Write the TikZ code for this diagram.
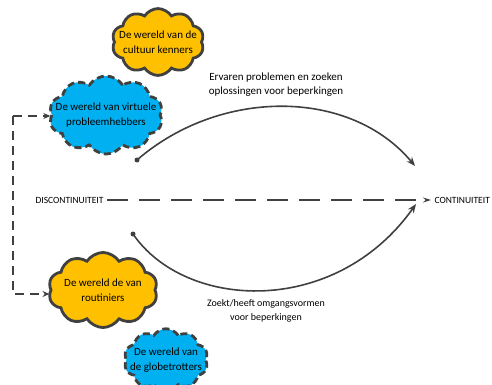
\documentclass[tikz,border=0pt]{standalone}
\usepackage{fontspec}
\setmainfont{Carlito}
\usetikzlibrary{shapes.symbols,arrows.meta}
\definecolor{cgray}{HTML}{404040}
\definecolor{corange}{HTML}{FFC000}
\definecolor{cblue}{HTML}{00B0F0}
\tikzset{
  cloudbase/.style={cloud, cloud puffs=10, cloud puff arc=115, cloud ignores aspect, draw=cgray, line width=2.8pt,
    align=center, font=\fontsize{11}{15}\selectfont, minimum width=0pt, minimum height=0pt},
  orangecloud/.style={cloudbase, fill=corange},
  bluecloud/.style={cloudbase, fill=cblue, dash pattern=on 7pt off 4pt},
  curvearrow/.style={draw=cgray, line width=1.6pt, -{Stealth[length=9pt,width=7pt]}},
  dot/.style={circle, fill=cgray, inner sep=0pt, minimum size=5pt},
  lbl/.style={font=\fontsize{9.5}{13.5}\selectfont, align=center},
}
\begin{document}
\begin{tikzpicture}[x=1pt,y=-1pt]
\useasboundingbox (0,0) rectangle (492,385);
\node[orangecloud, inner xsep=-8pt, inner ysep=8pt] (kenners) at (158,42) {De wereld van de\\cultuur kenners};
\node[bluecloud, inner xsep=-12pt, inner ysep=10pt] (virtueel) at (106,115) {De wereld van virtuele\\probleemhebbers};
\node[orangecloud, inner xsep=-2pt, inner ysep=10pt] (routiniers) at (103,290) {De wereld de van\\routiniers};
\node[bluecloud, inner xsep=-8pt, inner ysep=6pt] (globe) at (166,360) {De wereld van\\de globetrotters};

\node[lbl, anchor=east] (disc) at (107,200) {DISCONTINUITEIT};
\node[lbl, anchor=west] (cont) at (431,200) {CONTINUITEIT};
\draw[draw=cgray, line width=1.3pt, dash pattern=on 21pt off 11pt, -{Stealth[length=8pt,width=5pt]}] (disc.east) -- (cont.west);

\node[dot] (s1) at (137,160) {};
\coordinate (e1) at (415,166);
\draw[curvearrow] (s1.center) .. controls (220,88) and (350,88) .. (e1);
\node[dot] (s2) at (133,234) {};
\coordinate (e2) at (416,204);
\draw[curvearrow] (s2.center) .. controls (185,310) and (335,318) .. (e2);

\node[lbl, font=\fontsize{11}{14}\selectfont] (toplbl) at (276,85) {Ervaren problemen en zoeken\\oplossingen voor beperkingen};
\node[lbl, font=\fontsize{10}{14}\selectfont] (botlbl) at (266,311) {Zoekt/heeft omgangsvormen\\voor beperkingen};

\coordinate (c1) at (13,116);
\coordinate (c2) at (13,294);
\draw[draw=cgray, line width=1.3pt, dash pattern=on 9pt off 6pt, -{Stealth[length=7pt,width=6pt]}] (c1) -- (virtueel.west |- c1) ;
\draw[draw=cgray, line width=1.3pt, dash pattern=on 9pt off 6pt, -{Stealth[length=7pt,width=6pt]}] (c1) -- (c2) -- (routiniers.west |- c2);
\end{tikzpicture}
\end{document}
